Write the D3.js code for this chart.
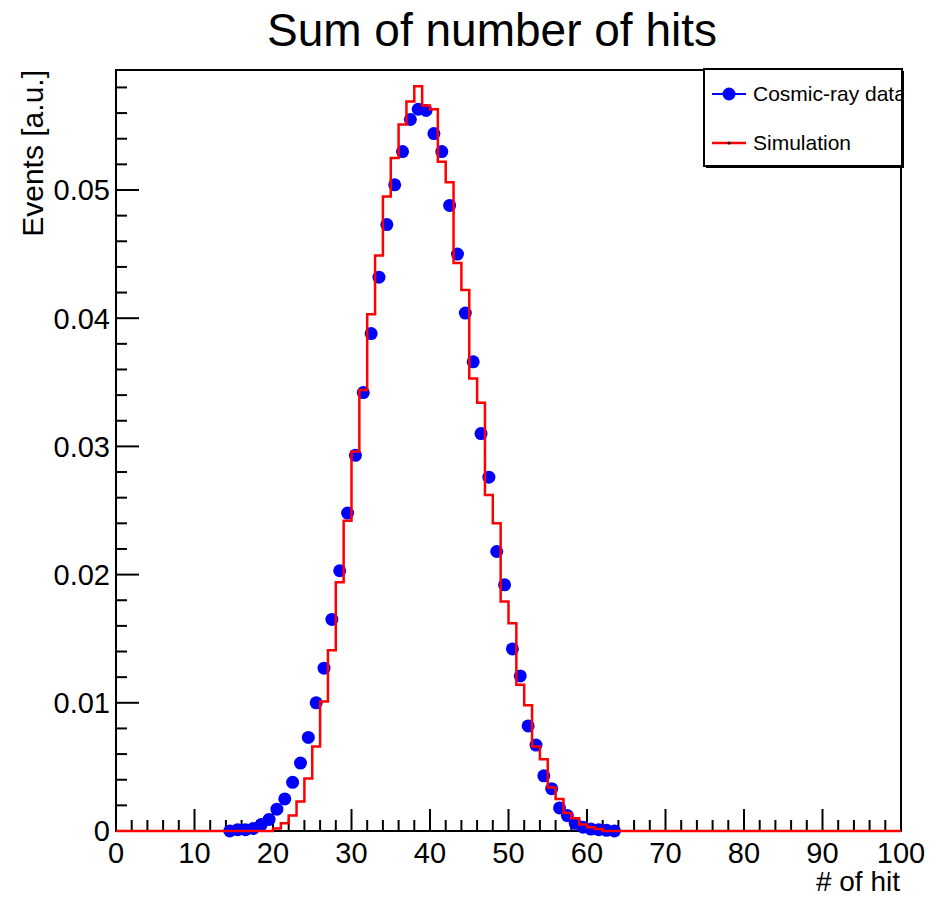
<!DOCTYPE html>
<meta charset="utf-8">
<script src="https://d3js.org/d3.v7.min.js"></script>
<style>
  body { margin: 0; background: #fff; }
  text { font-family: "Liberation Sans", Arial, sans-serif; fill: #000; }
</style>
<div id="my_dataviz"></div>
<script>

// Cosmic-ray data: bin centres and normalised counts
var cosmicX = [14.5, 15.5, 16.5, 17.5, 18.5, 19.5, 20.5, 21.5, 22.5, 23.5,
               24.5, 25.5, 26.5, 27.5, 28.5, 29.5, 30.5, 31.5, 32.5, 33.5,
               34.5, 35.5, 36.5, 37.5, 38.5, 39.5, 40.5, 41.5, 42.5, 43.5,
               44.5, 45.5, 46.5, 47.5, 48.5, 49.5, 50.5, 51.5, 52.5, 53.5,
               54.5, 55.5, 56.5, 57.5, 58.5, 59.5, 60.5, 61.5, 62.5, 63.5];
var cosmicY = [0.0000, 0.0001, 0.0001, 0.0002, 0.0005, 0.0009, 0.0017, 0.0025, 0.0038, 0.0053,
               0.0073, 0.0100, 0.0127, 0.0165, 0.0203, 0.0248, 0.0293, 0.0342, 0.0388, 0.0432,
               0.0473, 0.0504, 0.0530, 0.0555, 0.0563, 0.0562, 0.0544, 0.0530, 0.0488, 0.0450,
               0.0404, 0.0366, 0.0310, 0.0276, 0.0218, 0.0192, 0.0142, 0.0121, 0.0082, 0.0067,
               0.0043, 0.0033, 0.0018, 0.0012, 0.0006, 0.0003, 0.00015, 0.0001, 0.00005, 0.0000];

// Simulation histogram: bins of width 1 from 0 to 100, non-empty from bin 20 to bin 61
var simFirstBin = 20;
var simY = [0.0002, 0.0006, 0.0012, 0.0023, 0.0041, 0.0066, 0.0101, 0.0141, 0.0194, 0.0242,
            0.0296, 0.0344, 0.0403, 0.0449, 0.0495, 0.0525, 0.0551, 0.0569, 0.0581, 0.0566,
            0.0563, 0.0522, 0.0506, 0.0443, 0.0422, 0.0353, 0.0334, 0.0262, 0.0240, 0.0179,
            0.0162, 0.0114, 0.0098, 0.0066, 0.0056, 0.0034, 0.0025, 0.0014, 0.0010, 0.0005,
            0.0003, 0.00015];

var xTicks = [0, 10, 20, 30, 40, 50, 60, 70, 80, 90, 100];
var yTicks = [0, 0.01, 0.02, 0.03, 0.04, 0.05];
var yTickLabels = ["0", "0.01", "0.02", "0.03", "0.04", "0.05"];

// dimensions
var margin = {top: 70, right: 29, bottom: 67, left: 116},
    width = 930 - margin.left - margin.right,
    height = 898 - margin.top - margin.bottom;

var svgRoot = d3.select("#my_dataviz")
  .append("svg")
    .attr("width", 930)
    .attr("height", 898);

var svg = svgRoot.append("g")
    .attr("transform", "translate(" + margin.left + "," + margin.top + ")");

var x = d3.scaleLinear().domain([0, 100]).range([0, width]);
var y = d3.scaleLinear().domain([0, 0.05936]).range([height, 0]);

// title
svgRoot.append("text")
  .attr("x", 492).attr("y", 46)
  .attr("text-anchor", "middle")
  .style("font-size", "46px")
  .text("Sum of number of hits");

// frame
svg.append("rect")
  .attr("x", 0).attr("y", 0)
  .attr("width", width).attr("height", height)
  .attr("fill", "none").attr("stroke", "#000").attr("stroke-width", 2);

// X ticks (major every 10, minor every 2, pointing inward)
var xMinor = d3.range(0, 101, 2).filter(function(d) { return d % 10 !== 0; });
svg.selectAll(".xminor").data(xMinor).enter().append("line")
  .attr("x1", function(d) { return x(d); }).attr("x2", function(d) { return x(d); })
  .attr("y1", height).attr("y2", height - 11)
  .attr("stroke", "#000").attr("stroke-width", 2);
svg.selectAll(".xmajor").data(xTicks).enter().append("line")
  .attr("x1", function(d) { return x(d); }).attr("x2", function(d) { return x(d); })
  .attr("y1", height).attr("y2", height - 22)
  .attr("stroke", "#000").attr("stroke-width", 2);
svg.selectAll(".xlab").data(xTicks).enter().append("text")
  .attr("x", function(d) { return x(d); })
  .attr("y", height + 32)
  .attr("text-anchor", "middle")
  .style("font-size", "29px")
  .text(function(d) { return d; });

// Y ticks (major every 0.01, minor every 0.002)
var yMinor = d3.range(1, 30).map(function(i) { return i * 0.002; })
  .filter(function(d, i) { return (i + 1) % 5 !== 0; });
svg.selectAll(".yminor").data(yMinor).enter().append("line")
  .attr("x1", 0).attr("x2", 11)
  .attr("y1", function(d) { return y(d); }).attr("y2", function(d) { return y(d); })
  .attr("stroke", "#000").attr("stroke-width", 2);
svg.selectAll(".ymajor").data(yTicks).enter().append("line")
  .attr("x1", 0).attr("x2", 23)
  .attr("y1", function(d) { return y(d); }).attr("y2", function(d) { return y(d); })
  .attr("stroke", "#000").attr("stroke-width", 2);
svg.selectAll(".ylab").data(yTicks).enter().append("text")
  .attr("x", -6)
  .attr("y", function(d) { return y(d); })
  .attr("dy", "0.36em")
  .attr("text-anchor", "end")
  .style("font-size", "29px")
  .text(function(d, i) { return yTickLabels[i]; });

// axis titles
svgRoot.append("text")
  .attr("text-anchor", "end")
  .attr("x", 900).attr("y", 891)
  .style("font-size", "28px")
  .text("# of hit");
svgRoot.append("text")
  .attr("text-anchor", "end")
  .attr("transform", "translate(43,70) rotate(-90)")
  .style("font-size", "30px")
  .text("Events [a.u.]");

// cosmic-ray points
svg.selectAll(".dot").data(cosmicX).enter().append("circle")
  .attr("cx", function(d) { return x(d); })
  .attr("cy", function(d, i) { return y(cosmicY[i]); })
  .attr("r", 6.5)
  .style("fill", "#0000ff");

// simulation step histogram
var simPts = d3.range(0, 100).map(function(b) {
  var k = b - simFirstBin;
  return [b, (k >= 0 && k < simY.length) ? simY[k] : 0];
});
simPts.push([100, 0]);
svg.append("path")
  .datum(simPts)
  .attr("fill", "none")
  .attr("stroke", "#ff0000")
  .attr("stroke-width", 2.5)
  .attr("d", d3.line()
    .x(function(d) { return x(d[0]); })
    .y(function(d) { return y(d[1]); })
    .curve(d3.curveStepAfter));

// legend
var lg = svgRoot.append("g");
lg.append("rect").attr("x", 706).attr("y", 71).attr("width", 198).attr("height", 97).attr("fill", "#000");
lg.append("rect").attr("x", 704).attr("y", 69).attr("width", 198).attr("height", 97)
  .attr("fill", "#fff").attr("stroke", "#000").attr("stroke-width", 2);
svgRoot.append("clipPath").attr("id", "lgclip")
  .append("rect").attr("x", 705).attr("y", 70).attr("width", 196).attr("height", 95);
var lgc = lg.append("g").attr("clip-path", "url(#lgclip)");
lgc.append("line").attr("x1", 712).attr("x2", 746).attr("y1", 94).attr("y2", 94)
  .attr("stroke", "#0000ff").attr("stroke-width", 2);
lgc.append("circle").attr("cx", 729).attr("cy", 94).attr("r", 6.5).style("fill", "#0000ff");
lgc.append("text").attr("x", 753).attr("y", 94).attr("dy", "0.35em")
  .style("font-size", "21px").text("Cosmic-ray data");
lgc.append("line").attr("x1", 712).attr("x2", 746).attr("y1", 143).attr("y2", 143)
  .attr("stroke", "#ff0000").attr("stroke-width", 2.5);
lgc.append("circle").attr("cx", 729).attr("cy", 143).attr("r", 1.5).style("fill", "#000");
lgc.append("text").attr("x", 753).attr("y", 143).attr("dy", "0.35em")
  .style("font-size", "21px").text("Simulation");

</script>
